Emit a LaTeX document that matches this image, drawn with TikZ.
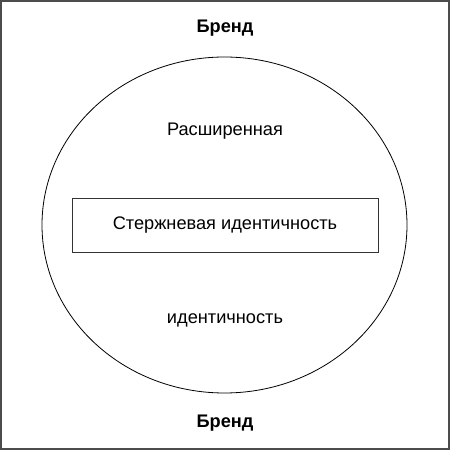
\documentclass[tikz,border=0pt]{standalone}
\usepackage{fontspec}
\setmainfont{Liberation Sans}
\usetikzlibrary{shapes,positioning}

\begin{document}
\begin{tikzpicture}[x=1pt,y=1pt,
  every node/.style={font=\fontsize{18.2}{21}\selectfont},
  brand/.style={font=\fontsize{18.2}{21}\selectfont\bfseries},
  ]
	\useasboundingbox (0,0) rectangle (450,450) ;
	\draw [line width=1.6pt,black!70] (0.8,0.8) rectangle (449.2,449.2) ;
	\node [draw,ellipse,line width=0.8pt,minimum width=365,minimum height=336] (extended) at (224.5,225) {} ;
	\node [draw,rectangle,line width=0.8pt,black!80,minimum width=306,minimum height=54] (core) at (225,225) {\color{black}Стержневая идентичность} ;
	\node (exttop) at (225,319) {Расширенная} ;
	\node (extbottom) at (225,130) {идентичность} ;
	\node [brand] (brandtop) at (225,422) {Бренд} ;
	\node [brand] (brandbottom) at (225,27) {Бренд} ;
\end{tikzpicture}
\end{document}
